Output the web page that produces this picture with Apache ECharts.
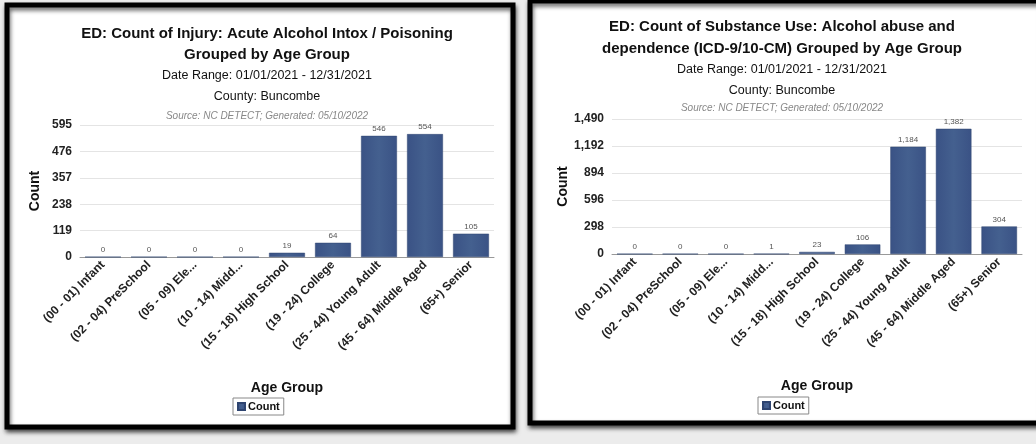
<!DOCTYPE html>
<html>
<head>
<meta charset="utf-8">
<script src="https://cdn.jsdelivr.net/npm/echarts@6/dist/echarts.min.js"></script>
<style>
  html, body { margin: 0; padding: 0; background: #ececec; }
  #chart { width: 1036px; height: 444px; }
</style>
</head>
<body>
<div id="chart"></div>
<script>
// Age group categories shared by both panels
const ageGroups = [
  '(00 - 01) Infant', '(02 - 04) PreSchool', '(05 - 09) Ele...', '(10 - 14) Midd...',
  '(15 - 18) High School', '(19 - 24) College', '(25 - 44) Young Adult',
  '(45 - 64) Middle Aged', '(65+) Senior'
];

// Injury: Acute Alcohol Intox / Poisoning counts
const injuryCounts = [0, 0, 0, 0, 19, 64, 546, 554, 105];
const injuryTicks = { max: 595, interval: 119 };

// Substance Use: Alcohol abuse and dependence counts
const substanceCounts = [0, 0, 0, 1, 23, 106, 1184, 1382, 304];
const substanceTicks = { max: 1490, interval: 298 };

const leftTitles = [
  'ED: Count of Injury: Acute Alcohol Intox / Poisoning',
  'Grouped by Age Group'
];
const rightTitles = [
  'ED: Count of Substance Use: Alcohol abuse and',
  'dependence (ICD-9/10-CM) Grouped by Age Group'
];
const dateRange = 'Date Range: 01/01/2021 - 12/31/2021';
const county = 'County: Buncombe';
const source = 'Source: NC DETECT; Generated: 05/10/2022';

const FONT = 'Liberation Sans, Arial, sans-serif';
const BAR = '#3f5889';

function titleBlock(cx, ys, lines) {
  const out = [];
  out.push({ text: lines[0], left: cx, top: ys[0], textAlign: 'center',
    textStyle: { fontFamily: FONT, fontSize: 15, fontWeight: 'bold', color: '#111' } });
  out.push({ text: lines[1], left: cx, top: ys[1], textAlign: 'center',
    textStyle: { fontFamily: FONT, fontSize: 15, fontWeight: 'bold', color: '#111' } });
  out.push({ text: dateRange, left: cx, top: ys[2], textAlign: 'center',
    textStyle: { fontFamily: FONT, fontSize: 12.5, fontWeight: 'normal', color: '#111' } });
  out.push({ text: county, left: cx, top: ys[3], textAlign: 'center',
    textStyle: { fontFamily: FONT, fontSize: 12.5, fontWeight: 'normal', color: '#111' } });
  out.push({ text: source, left: cx, top: ys[4], textAlign: 'center',
    textStyle: { fontFamily: FONT, fontSize: 10, fontWeight: 'normal', fontStyle: 'italic', color: '#888' } });
  return out;
}

function xAxisFor(gridIndex, gap) {
  return {
    type: 'category', gridIndex, data: ageGroups,
    name: 'Age Group', nameLocation: 'middle', nameGap: gap,
    nameTextStyle: { fontFamily: FONT, fontSize: 14, fontWeight: 'bold', color: '#111' },
    axisLine: { lineStyle: { color: '#999' } },
    axisTick: { show: false },
    axisLabel: { interval: 0, rotate: 45, fontFamily: FONT, fontSize: 12, fontWeight: 'bold', color: '#222', margin: 6 }
  };
}

function yAxisFor(gridIndex, ticks) {
  return {
    type: 'value', gridIndex, min: 0, max: ticks.max, interval: ticks.interval,
    name: 'Count', nameLocation: 'middle', nameGap: 38, nameRotate: 90,
    nameTextStyle: { fontFamily: FONT, fontSize: 14, fontWeight: 'bold', color: '#111' },
    axisLine: { show: false }, axisTick: { show: false },
    axisLabel: { fontFamily: FONT, fontSize: 12, fontWeight: 'bold', color: '#222', margin: 8,
      formatter: v => v.toLocaleString('en-US') },
    splitLine: { lineStyle: { color: '#e4e4e4', width: 1 } }
  };
}

function barSeries(idx, data) {
  return {
    type: 'bar', name: 'Count', xAxisIndex: idx, yAxisIndex: idx, data,
    barWidth: '78%',
    itemStyle: {
      color: new echarts.graphic.LinearGradient(0, 0, 1, 0, [
        { offset: 0, color: '#3a5285' }, { offset: 0.5, color: '#44608f' }, { offset: 1, color: '#3a5285' }
      ]),
      borderColor: '#2e4470', borderWidth: 0.5
    },
    label: { show: true, position: 'top', distance: 3, fontFamily: FONT, fontSize: 8, color: '#555',
      formatter: p => p.value.toLocaleString('en-US') }
  };
}

const chart = echarts.init(document.getElementById('chart'), null, { renderer: 'canvas' });

chart.setOption({
  backgroundColor: '#ececec',
  animation: false,
  graphic: [
    { type: 'rect', z: -10, shape: { x: 7, y: 5, width: 506, height: 422 },
      style: { fill: '#ffffff', stroke: '#000', lineWidth: 5,
        shadowBlur: 4, shadowOffsetX: 1, shadowOffsetY: 3, shadowColor: 'rgba(0,0,0,0.6)' } },
    { type: 'rect', z: -10, shape: { x: 530, y: 1, width: 512, height: 422 },
      style: { fill: '#ffffff', stroke: '#000', lineWidth: 5,
        shadowBlur: 4, shadowOffsetX: 1, shadowOffsetY: 3, shadowColor: 'rgba(0,0,0,0.6)' } }
  ],
  title: [].concat(
    titleBlock(262, [21, 42, 64, 85, 106], leftTitles),
    titleBlock(777, [14, 36, 58, 79, 98], rightTitles)
  ),
  legend: [
    { data: ['Count'], left: 233, top: 398,
      itemWidth: 7, itemHeight: 7, itemGap: 4, icon: 'rect',
      borderColor: '#888', borderWidth: 1, padding: [3, 4],
      textStyle: { fontFamily: FONT, fontSize: 11, fontWeight: 'bold', color: '#111', padding: [0, 0, 0, -2] } },
    { data: ['Count'], left: 758, top: 397,
      itemWidth: 7, itemHeight: 7, itemGap: 4, icon: 'rect',
      borderColor: '#888', borderWidth: 1, padding: [3, 4],
      textStyle: { fontFamily: FONT, fontSize: 11, fontWeight: 'bold', color: '#111', padding: [0, 0, 0, -2] } }
  ],
  grid: [
    { left: 80, top: 125, width: 414, height: 132 },
    { left: 612, top: 119, width: 410, height: 135 }
  ],
  xAxis: [xAxisFor(0, 124), xAxisFor(1, 125)],
  yAxis: [yAxisFor(0, injuryTicks), yAxisFor(1, substanceTicks)],
  series: [barSeries(0, injuryCounts), barSeries(1, substanceCounts)],
  color: [BAR]
});
</script>
</body>
</html>
